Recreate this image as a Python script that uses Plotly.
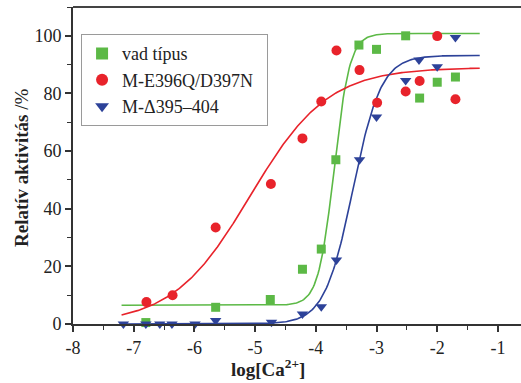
import numpy as np
import plotly.graph_objects as go

# Data
wt_x = [-6.8, -5.65, -4.75, -4.22, -3.91, -3.67, -3.29, -3.0, -2.52, -2.29, -2.0, -1.7]
wt_y = [0.5, 5.8, 8.5, 19, 26, 57, 96.8, 95.3, 100, 78.4, 83.9, 85.7]

mut1_x = [-6.79, -6.36, -5.65, -4.74, -4.22, -3.91, -3.66, -3.28, -2.99, -2.52, -2.29, -2.0, -1.7]
mut1_y = [7.6, 10, 33.5, 48.6, 64.4, 77.2, 94.9, 88.1, 76.8, 80.7, 84.3, 99.9, 78.0]

mut2_x = [-7.17, -6.8, -6.57, -6.37, -5.99, -5.65, -4.73, -4.22, -3.91, -3.66, -3.28, -3.0, -2.52, -2.3, -2.0, -1.7]
mut2_y = [0, 0, 0, 0, 0, 1.2, 0.6, 3.5, 6.0, 22.2, 57, 71.8, 84.5, 91.6, 89.3, 99.4]

# Boltzmann fit parameters (A1, A2, x0, dx)
wt_fit = (6.5, 100.8, -3.70, 0.13)
mut1_fit = (0.0, 89.0, -5.08, 0.64)
mut2_fit = (0.0, 93.2, -3.39, 0.233)
fit_x_range = (-7.2, -1.3)

names = ["vad típus", "M-E396Q/D397N", "M-\u0394395\u2013404"]
colors = ["#5cb946", "#e8232b", "#2d4299"]
symbols = ["square", "circle", "triangle-down"]
sizes = [9, 10, 10]

xf = np.linspace(fit_x_range[0], fit_x_range[1], 300)


def boltz(x, p):
    a1, a2, x0, dx = p
    return a2 + (a1 - a2) / (1 + np.exp((x - x0) / dx))


fig = go.Figure()
for p, c in zip([wt_fit, mut1_fit, mut2_fit], colors):
    fig.add_trace(go.Scatter(x=xf, y=boltz(xf, p), mode="lines",
                             line=dict(color=c, width=1.6), showlegend=False,
                             hoverinfo="skip", cliponaxis=False))
for xs, ys, name, c, s, sz in zip(
    [wt_x, mut1_x, mut2_x], [wt_y, mut1_y, mut2_y], names, colors, symbols, sizes):
    fig.add_trace(go.Scatter(x=xs, y=ys, mode="markers", name=name + "\u00a0\u00a0",
                             marker=dict(symbol=s, color=c, size=sz, line=dict(width=0)),
                             cliponaxis=False))

font = "Liberation Serif"
fig.update_layout(
    width=521, height=383,
    margin=dict(l=73, r=0, t=7, b=59, autoexpand=False),
    paper_bgcolor="white", plot_bgcolor="white",
    font=dict(family=font, size=18, color="#222222"),
    showlegend=True,
    legend=dict(x=0.018, y=0.914, xanchor="left", yanchor="top",
                bordercolor="#9a9a9a", borderwidth=1, bgcolor="white",
                font=dict(family=font, size=18, color="#222222"),
                itemsizing="constant", tracegroupgap=0),
    xaxis=dict(range=[-8, -0.62], tickvals=[-8, -7, -6, -5, -4, -3, -2, -1],
               ticktext=["-8", "-7", "-6", "-5", "-4", "-3", "-2", "-1"],
               ticks="outside", ticklen=6, tickwidth=1.5, tickcolor="#333",
               minor=dict(dtick=0.5, ticks="outside", ticklen=4, tickwidth=1.2, tickcolor="#333"),
               showline=True, linecolor="#333", linewidth=1.8, mirror=False,
               showgrid=False, zeroline=False, automargin=False),
    yaxis=dict(range=[0, 110], tickvals=[0, 20, 40, 60, 80, 100],
               ticks="outside", ticklen=6, tickwidth=1.5, tickcolor="#333",
               minor=dict(dtick=10, ticks="outside", ticklen=4, tickwidth=1.2, tickcolor="#333"),
               showline=True, linecolor="#333", linewidth=1.8,
               showgrid=False, zeroline=False, automargin=False),
    annotations=[
        dict(text="<b>log[Ca<sup>2+</sup>]</b>", xref="paper", yref="paper",
             x=(268 - 73) / 448, y=-(368 - 324) / 317, xanchor="center", yanchor="middle",
             showarrow=False, font=dict(family=font, size=19, color="#222222")),
        dict(text="<b>Relatív aktivitás</b> /%", xref="paper", yref="paper",
             x=-(73 - 22) / 448, y=(324 - 168) / 317, xanchor="center", yanchor="middle",
             textangle=-90, showarrow=False, font=dict(family=font, size=19, color="#222222")),
    ],
)
# top frame line
fig.add_shape(type="line", xref="paper", yref="paper", x0=0, x1=1, y0=1, y1=1,
              line=dict(color="#444", width=2.2))

fig.write_html("out.html", config={"displayModeBar": False},
               post_script="document.body.style.margin='0';")
